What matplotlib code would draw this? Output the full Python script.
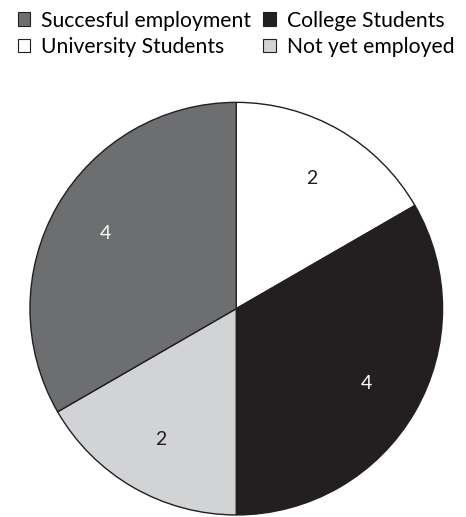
import matplotlib.pyplot as plt
from matplotlib.patches import Patch

# group sizes, drawn clockwise from the top
labels = ['University Students', 'College Students', 'Not yet employed', 'Succesful employment']
counts = [2, 4, 2, 4]
colors = ['#ffffff', '#231f20', '#d1d3d4', '#6d6e70']
text_colors = ['#231f20', '#ffffff', '#231f20', '#ffffff']

plt.rcParams['font.family'] = ['Lato', 'DejaVu Sans']

fig = plt.figure(figsize=(4.66, 5.17), dpi=100)
ax = fig.add_axes([0.058, 0.0, 0.898, 0.806])

wedges, texts = ax.pie(counts, colors=colors, startangle=90, counterclock=False,
                       labels=[str(c) for c in counts], labeldistance=0.73,
                       wedgeprops=dict(edgecolor='#231f20', linewidth=1.0),
                       textprops=dict(fontsize=14))
for t, c in zip(texts, text_colors):
    t.set_color(c)
    t.set_horizontalalignment('center')
    t.set_verticalalignment('center')
ax.set_xlim(-1.01, 1.01)
ax.set_ylim(-1.01, 1.01)
ax.set_aspect('equal')
ax.axis('off')

# legend reads row-wise, matplotlib fills column-wise
order = [3, 0, 1, 2]
handles = [Patch(facecolor=colors[i], edgecolor='#231f20', linewidth=0.8) for i in order]
fig.legend(handles, [labels[i] for i in order], ncol=2, loc='upper left',
           bbox_to_anchor=(0.015, 1.0), frameon=False, fontsize=15.2,
           handlelength=0.6, handleheight=0.6, handletextpad=0.5,
           columnspacing=0.6, labelspacing=0.3, borderaxespad=0.1)

fig.savefig('out.png', dpi=100)
